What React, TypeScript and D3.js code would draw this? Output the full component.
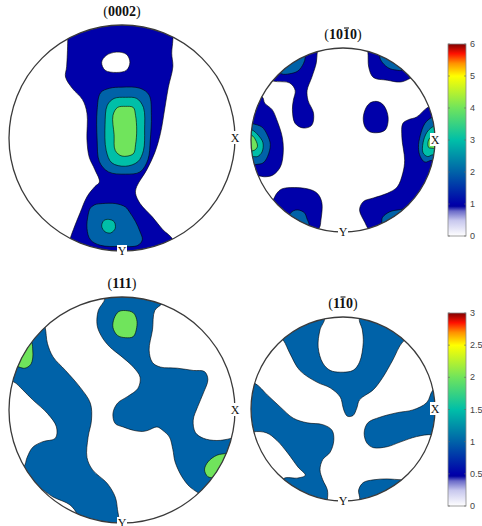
import React from 'react';
import * as d3 from 'd3';

type Pt = [number, number];

// contour outlines in projection coords (-1..1, y up)
// (0002)
const basalBand: Pt[] = [[-0.48, 1.13], [-0.48, 0.87], [-0.49, 0.63], [-0.5, 0.54], [-0.44, 0.44], [-0.35, 0.34], [-0.31, 0.22], [-0.31, -0.02], [-0.29, -0.17], [-0.24, -0.28], [-0.2, -0.39], [-0.24, -0.43], [-0.31, -0.52], [-0.37, -0.66], [-0.43, -0.81], [-0.46, -0.9], [-0.48, -1.1], [0.47, -1.1], [0.45, -0.9], [0.36, -0.81], [0.27, -0.7], [0.16, -0.58], [0.12, -0.49], [0.13, -0.43], [0.22, -0.28], [0.29, -0.13], [0.34, 0.04], [0.38, 0.27], [0.41, 0.45], [0.45, 0.63], [0.44, 0.75], [0.45, 0.87], [0.45, 1.13]];
const basalHole: Pt[] = [[-0.18, 0.67], [-0.14, 0.73], [-0.05, 0.76], [0.04, 0.74], [0.07, 0.67], [0.04, 0.6], [-0.05, 0.58], [-0.15, 0.6]];
const basalL2a: Pt[] = [[0, 0.45], [0.16, 0.44], [0.24, 0.38], [0.26, 0.2], [0.25, -0.02], [0.23, -0.19], [0.16, -0.3], [0.03, -0.32], [-0.12, -0.3], [-0.2, -0.21], [-0.22, -0.02], [-0.22, 0.25], [-0.19, 0.4], [-0.11, 0.44]];
const basalL2b: Pt[] = [[-0.24, -0.59], [-0.17, -0.58], [-0.06, -0.58], [0.03, -0.61], [0.07, -0.66], [0.12, -0.74], [0.16, -0.83], [0.18, -0.9], [0.14, -0.95], [-0.02, -0.96], [-0.19, -0.95], [-0.28, -0.9], [-0.31, -0.8], [-0.3, -0.68], [-0.28, -0.62]];
const basalL3a: Pt[] = [[0.03, 0.36], [0.13, 0.35], [0.19, 0.27], [0.2, 0.07], [0.19, -0.11], [0.14, -0.21], [0.03, -0.25], [-0.09, -0.22], [-0.14, -0.11], [-0.15, 0.12], [-0.13, 0.29], [-0.07, 0.35]];
const basalL3b: Pt[] = [[-0.18, -0.78], [-0.16, -0.73], [-0.12, -0.72], [-0.07, -0.74], [-0.06, -0.8], [-0.1, -0.84], [-0.15, -0.83]];
const basalL4: Pt[] = [[0.03, 0.28], [0.1, 0.27], [0.12, 0.2], [0.13, 0.07], [0.12, -0.06], [0.1, -0.14], [0, -0.16], [-0.06, -0.11], [-0.07, 0.03], [-0.08, 0.2], [-0.04, 0.27]];

// (10-10)
const prismTL: Pt[] = [[-0.96, 0.71], [-0.76, 0.64], [-0.58, 0.62], [-0.52, 0.54], [-0.54, 0.43], [-0.55, 0.33], [-0.52, 0.18], [-0.43, 0.13], [-0.34, 0.16], [-0.32, 0.29], [-0.38, 0.43], [-0.39, 0.54], [-0.34, 0.68], [-0.29, 0.84], [-0.28, 0.95], [-0.25, 1.09], [-0.9, 1.09]];
const prismTL2: Pt[] = [[-0.67, 0.72], [-0.58, 0.72], [-0.49, 0.75], [-0.43, 0.83], [-0.41, 0.9], [-0.42, 0.98], [-0.63, 1.09], [-0.85, 0.87]];
const prismTR: Pt[] = [[0.27, 0.96], [0.28, 0.79], [0.33, 0.68], [0.48, 0.65], [0.62, 0.63], [0.71, 0.66], [0.84, 0.76], [0.62, 1.09], [0.24, 1.09]];
const prismTR2: Pt[] = [[0.4, 0.91], [0.43, 0.84], [0.5, 0.78], [0.58, 0.76], [0.64, 0.76], [0.73, 0.92], [0.51, 1.03]];
const prismMid: Pt[] = [[0.36, 0.42], [0.43, 0.39], [0.48, 0.3], [0.49, 0.2], [0.46, 0.11], [0.38, 0.08], [0.29, 0.09], [0.24, 0.14], [0.22, 0.24], [0.25, 0.35], [0.29, 0.4]];
const prismL: Pt[] = [[-0.88, 0.47], [-0.85, 0.4], [-0.77, 0.33], [-0.72, 0.22], [-0.66, 0.03], [-0.65, -0.14], [-0.68, -0.29], [-0.76, -0.38], [-0.85, -0.4], [-0.92, -0.39], [-1.12, -0.43], [-1.12, 0.49]];
const prismL2: Pt[] = [[-0.99, 0.18], [-0.88, 0.14], [-0.82, 0.05], [-0.79, -0.05], [-0.82, -0.18], [-0.87, -0.25], [-0.96, -0.27], [-1.12, -0.33], [-1.12, 0.22]];
const prismL3: Pt[] = [[-0.99, 0.11], [-0.92, 0.05], [-0.87, -0.03], [-0.88, -0.13], [-0.93, -0.18], [-0.99, -0.18], [-1.12, -0.22], [-1.12, 0.13]];
const prismL4: Pt[] = [[-0.99, 0.05], [-0.95, 0], [-0.93, -0.07], [-0.96, -0.11], [-1.0, -0.12], [-1.12, -0.13], [-1.12, 0.07]];
const prismR: Pt[] = [[0.93, 0.36], [0.8, 0.25], [0.71, 0.22], [0.65, 0.18], [0.64, 0.03], [0.67, -0.22], [0.65, -0.36], [0.59, -0.51], [0.48, -0.58], [0.33, -0.63], [0.22, -0.67], [0.18, -0.76], [0.24, -0.9], [0.27, -0.96], [0.4, -1.14], [1.16, -1.09], [1.16, 0.43]];
const prismR2: Pt[] = [[0.97, 0.25], [0.89, 0.18], [0.84, 0.05], [0.82, -0.08], [0.84, -0.18], [0.89, -0.24], [0.97, -0.22], [1.16, -0.27], [1.16, 0.33]];
const prismR3: Pt[] = [[0.97, 0.14], [0.91, 0.08], [0.87, -0.03], [0.87, -0.14], [0.92, -0.18], [0.98, -0.16], [1.16, -0.22], [1.16, 0.22]];
const prismR4: Pt[] = [[0.98, 0.05], [0.93, 0], [0.93, -0.08], [0.98, -0.09], [1.16, -0.11], [1.16, 0.11]];
const prismBR2: Pt[] = [[0.42, -0.9], [0.43, -0.84], [0.51, -0.78], [0.6, -0.76], [0.7, -0.76], [0.78, -0.98], [0.4, -1.09]];
const prismBL: Pt[] = [[-0.76, -0.65], [-0.72, -0.58], [-0.66, -0.53], [-0.39, -0.53], [-0.28, -0.58], [-0.23, -0.68], [-0.24, -0.87], [-0.26, -0.96], [-0.47, -1.14], [-0.9, -0.82]];
const prismBL2: Pt[] = [[-0.59, -0.82], [-0.54, -0.77], [-0.49, -0.76], [-0.42, -0.79], [-0.39, -0.86], [-0.37, -0.93], [-0.47, -1.03], [-0.63, -0.92]];

// (111)
const p111A: Pt[] = [[-0.15, 0.99], [-0.21, 0.88], [-0.22, 0.75], [-0.18, 0.65], [-0.11, 0.56], [0, 0.47], [0.1, 0.38], [0.16, 0.29], [0.14, 0.19], [0.05, 0.12], [-0.04, 0.06], [-0.08, -0.03], [-0.06, -0.12], [0.01, -0.15], [0.1, -0.18], [0.18, -0.19], [0.23, -0.18], [0.31, -0.15], [0.36, -0.18], [0.42, -0.24], [0.45, -0.35], [0.47, -0.46], [0.53, -0.59], [0.6, -0.68], [0.67, -0.73], [0.82, -0.84], [1.18, -0.53], [1.18, -0.18], [0.97, -0.25], [0.84, -0.27], [0.72, -0.25], [0.65, -0.2], [0.63, -0.09], [0.67, 0.03], [0.72, 0.15], [0.76, 0.27], [0.73, 0.34], [0.63, 0.35], [0.49, 0.37], [0.34, 0.38], [0.27, 0.42], [0.24, 0.53], [0.27, 0.71], [0.29, 0.88], [0.36, 0.95], [0.42, 1.15], [-0.19, 1.15]];
const p111Ag1: Pt[] = [[0.03, 0.88], [0.1, 0.86], [0.13, 0.8], [0.13, 0.73], [0.1, 0.65], [0.03, 0.64], [-0.04, 0.66], [-0.08, 0.73], [-0.07, 0.81], [-0.03, 0.87]];
const p111Ag2: Pt[] = [[0.93, -0.38], [0.84, -0.4], [0.76, -0.46], [0.73, -0.53], [0.76, -0.59], [0.81, -0.6], [1.04, -0.62], [1.04, -0.31]];
const p111B: Pt[] = [[-0.68, 0.73], [-0.66, 0.59], [-0.61, 0.47], [-0.5, 0.35], [-0.37, 0.2], [-0.28, 0.06], [-0.27, -0.09], [-0.3, -0.24], [-0.31, -0.42], [-0.26, -0.53], [-0.13, -0.65], [-0.06, -0.77], [-0.04, -0.88], [-0.03, -1.0], [-0.11, -1.15], [-0.33, -1.06], [-0.39, -0.93], [-0.46, -0.84], [-0.61, -0.77], [-0.75, -0.68], [-0.9, -0.66], [-0.99, -0.53], [-0.87, -0.5], [-0.84, -0.42], [-0.79, -0.33], [-0.7, -0.28], [-0.59, -0.25], [-0.58, -0.15], [-0.66, -0.03], [-0.79, 0.09], [-0.88, 0.18], [-0.96, 0.25], [-1.08, 0.27], [-1.08, 0.71], [-0.73, 0.88]];
const p111Bg: Pt[] = [[-0.8, 0.6], [-0.79, 0.53], [-0.79, 0.46], [-0.81, 0.4], [-0.86, 0.37], [-0.91, 0.38], [-1.04, 0.44], [-0.9, 0.71]];

// (1-10)
const p110A: Pt[] = [[-0.65, 0.75], [-0.58, 0.61], [-0.47, 0.42], [-0.28, 0.29], [-0.14, 0.23], [-0.03, 0.13], [0, 0.02], [0.02, -0.04], [0.05, -0.08], [0.11, -0.07], [0.15, 0.01], [0.18, 0.1], [0.33, 0.21], [0.43, 0.34], [0.54, 0.53], [0.65, 0.73], [0.84, 0.86], [0.35, 1.13], [0.18, 0.99], [0.21, 0.86], [0.22, 0.72], [0.18, 0.51], [0.11, 0.42], [-0.03, 0.4], [-0.14, 0.42], [-0.22, 0.5], [-0.27, 0.67], [-0.25, 0.86], [-0.2, 0.99], [-0.3, 1.13], [-0.85, 0.97]];
const p110B: Pt[] = [[-0.98, -0.25], [-0.83, -0.26], [-0.72, -0.34], [-0.6, -0.48], [-0.49, -0.63], [-0.41, -0.72], [-0.49, -0.75], [-0.65, -0.76], [-0.68, -0.99], [-0.2, -1.15], [-0.17, -0.99], [-0.17, -0.88], [-0.22, -0.77], [-0.25, -0.66], [-0.22, -0.55], [-0.14, -0.47], [-0.1, -0.34], [-0.12, -0.23], [-0.22, -0.17], [-0.39, -0.15], [-0.54, -0.1], [-0.68, 0.02], [-0.82, 0.15], [-0.96, 0.28], [-1.17, 0.32], [-1.17, -0.34]];
const p110C: Pt[] = [[0.98, 0.21], [0.91, 0.07], [0.76, -0.01], [0.59, -0.04], [0.4, -0.09], [0.27, -0.15], [0.23, -0.26], [0.26, -0.37], [0.33, -0.42], [0.48, -0.41], [0.62, -0.36], [0.8, -0.3], [0.97, -0.28], [1.16, -0.34], [1.16, 0.32]];
const p110D: Pt[] = [[0.18, -0.99], [0.17, -0.88], [0.22, -0.8], [0.33, -0.77], [0.48, -0.76], [0.64, -0.77], [0.84, -0.77], [0.62, -1.21], [0.08, -1.15]];

const ticksA = [0, 1, 2, 3, 4, 5, 6];
const ticksB = [0, 0.5, 1, 1.5, 2, 2.5, 3];

// white-to-jet-like colormap
const cmapStops = [0, 0.08, 0.13, 0.155, 0.167, 0.333, 0.5, 0.667, 0.833, 0.9, 0.95, 1];
const cmapColors = ['#ffffff', '#c8c8ee', '#6a6ac8', '#0000a0', '#0000aa', '#0062a8', '#00bfa8', '#70e45c', '#ffff00', '#ff9000', '#ff1000', '#800000'];
const cmap = d3.scaleLinear<string>().domain(cmapStops).range(cmapColors).interpolate(d3.interpolateRgb);

// title: Miller index digits (bold), index of the barred digit (-1 = none)
type Panel = { id: string; digits: string; bar: number; cx: number; cy: number; r: number; max: number; regions: [number, Pt[]][] };

const panels: Panel[] = [
  {
    id: 'a', digits: '0002', bar: -1, cx: 122, cy: 138, r: 113, max: 6,
    regions: [[1, basalBand], [0, basalHole], [2, basalL2a], [2, basalL2b], [3, basalL3a], [3, basalL3b], [4, basalL4]],
  },
  {
    id: 'b', digits: '1010', bar: 2, cx: 343, cy: 140, r: 92, max: 6,
    regions: [[1, prismTL], [2, prismTL2], [1, prismTR], [2, prismTR2], [1, prismMid], [1, prismL], [2, prismL2], [3, prismL3], [4, prismL4],
      [1, prismR], [2, prismR2], [3, prismR3], [4, prismR4], [2, prismBR2], [1, prismBL], [2, prismBL2]],
  },
  {
    id: 'c', digits: '111', bar: -1, cx: 122, cy: 410, r: 113, max: 3,
    regions: [[1, p111A], [2, p111Ag1], [2, p111Ag2], [1, p111B], [2, p111Bg]],
  },
  {
    id: 'd', digits: '110', bar: 1, cx: 343, cy: 409, r: 92, max: 3,
    regions: [[1, p110A], [1, p110B], [1, p110C], [1, p110D]],
  },
];

const colorbars = [
  { id: 'cbA', x: 448, y0: 44, y1: 236, ticks: ticksA, max: 6 },
  { id: 'cbB', x: 448, y0: 313, y1: 506, ticks: ticksB, max: 3 },
];

const serif = '"Liberation Serif", "DejaVu Serif", serif';
const sans = '"Liberation Sans", Arial, sans-serif';
const TITLE_FS = 14;

function PoleFigure({ p }: { p: Panel }) {
  const sx = d3.scaleLinear().domain([-1, 1]).range([p.cx - p.r, p.cx + p.r]);
  const sy = d3.scaleLinear().domain([-1, 1]).range([p.cy + p.r, p.cy - p.r]);
  const line = d3.line<Pt>().x(d => sx(d[0])).y(d => sy(d[1])).curve(d3.curveCatmullRomClosed.alpha(0.5));
  const titleY = p.cy - p.r - 9;
  // Times metrics: parens 0.333em, digits 0.5em
  const paren = 0.333 * TITLE_FS, dig = 0.5 * TITLE_FS;
  const tw = 2 * paren + p.digits.length * dig;
  const barX = p.cx - tw / 2 + paren + p.bar * dig;
  return (
    <g>
      <defs>
        <clipPath id={`clip-${p.id}`}>
          <circle cx={p.cx} cy={p.cy} r={p.r} />
        </clipPath>
      </defs>
      <circle cx={p.cx} cy={p.cy} r={p.r} fill="#fff" />
      <g clipPath={`url(#clip-${p.id})`}>
        {p.regions.map(([lvl, pts], i) => (
          <path key={i} d={line(pts) || ''} fill={cmap(lvl / p.max)} stroke="#000" strokeWidth={0.6} />
        ))}
      </g>
      <circle cx={p.cx} cy={p.cy} r={p.r} fill="none" stroke="#3a3a3a" strokeWidth={1.3} />
      <text x={p.cx} y={titleY} textAnchor="middle" fontFamily={serif} fontSize={TITLE_FS} fill="#111">
        <tspan>(</tspan><tspan fontWeight="bold">{p.digits}</tspan><tspan>)</tspan>
      </text>
      {p.bar >= 0 && (
        <line x1={barX + 1} x2={barX + dig - 1} y1={titleY - 11} y2={titleY - 11} stroke="#111" strokeWidth={1.1} />
      )}
      <rect x={p.cx + p.r - 5} y={p.cy - 7} width={10} height={13} fill="#fff" />
      <text x={p.cx + p.r} y={p.cy + 4} textAnchor="middle" fontFamily={serif} fontSize={12} fill="#111">X</text>
      <rect x={p.cx - 5} y={p.cy + p.r - 6} width={10} height={12} fill="#fff" />
      <text x={p.cx} y={p.cy + p.r + 4} textAnchor="middle" fontFamily={serif} fontSize={12} fill="#111">Y</text>
    </g>
  );
}

function ColorBar({ c }: { c: typeof colorbars[number] }) {
  const y = d3.scaleLinear().domain([0, c.max]).range([c.y1, c.y0]);
  const w = 18;
  return (
    <g>
      <defs>
        <linearGradient id={c.id} x1="0" y1="1" x2="0" y2="0">
          {cmapStops.map((s, i) => <stop key={i} offset={s} stopColor={cmapColors[i]} />)}
        </linearGradient>
      </defs>
      <rect x={c.x} y={c.y0} width={w} height={c.y1 - c.y0} fill={`url(#${c.id})`} stroke="#8a8a8a" strokeWidth={0.8} />
      {c.ticks.map(t => (
        <g key={t}>
          <line x1={c.x + w} x2={c.x + w - 2} y1={y(t)} y2={y(t)} stroke="#666" strokeWidth={0.6} />
          <line x1={c.x} x2={c.x + 2} y1={y(t)} y2={y(t)} stroke="#666" strokeWidth={0.6} />
          <text x={c.x + w + 4} y={y(t)} dy="0.35em" fontFamily={sans} fontSize={9} fill="#444">{t}</text>
        </g>
      ))}
    </g>
  );
}

export default function App() {
  return (
    <svg width={482} height={526} style={{ position: 'absolute', left: 0, top: 0, background: '#fff' }}>
      {panels.map(p => <PoleFigure key={p.id} p={p} />)}
      {colorbars.map(c => <ColorBar key={c.id} c={c} />)}
    </svg>
  );
}
